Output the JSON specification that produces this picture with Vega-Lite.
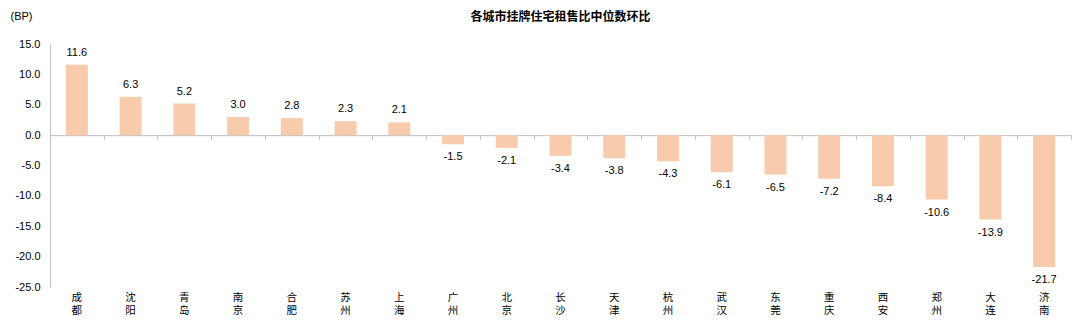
{
  "$schema": "https://vega.github.io/schema/vega-lite/v6.json",
  "width": 1021,
  "height": 243,
  "autosize": {"type": "none"},
  "padding": {"left": 50, "top": 44, "right": 9, "bottom": 38},
  "background": "white",
  "config": {
    "view": {"stroke": null},
    "font": "Liberation Sans, Noto Sans CJK SC",
    "axis": {"labelFont": "Liberation Sans, Noto Sans CJK SC", "titleFont": "Liberation Sans, Noto Sans CJK SC"},
    "locale": {"number": {"decimal": ".", "thousands": ",", "grouping": [3], "currency": ["$", ""], "minus": "-"}}
  },
  "title": {
    "text": "各城市挂牌住宅租售比中位数环比",
    "font": "Noto Sans CJK SC",
    "fontSize": 12,
    "fontWeight": "bold",
    "color": "#000000",
    "anchor": "middle",
    "offset": 0,
    "dy": 14
  },
  "data": {
    "values": [
      {"city": "成都", "value": 11.6},
      {"city": "沈阳", "value": 6.3},
      {"city": "青岛", "value": 5.2},
      {"city": "南京", "value": 3.0},
      {"city": "合肥", "value": 2.8},
      {"city": "苏州", "value": 2.3},
      {"city": "上海", "value": 2.1},
      {"city": "广州", "value": -1.5},
      {"city": "北京", "value": -2.1},
      {"city": "长沙", "value": -3.4},
      {"city": "天津", "value": -3.8},
      {"city": "杭州", "value": -4.3},
      {"city": "武汉", "value": -6.1},
      {"city": "东莞", "value": -6.5},
      {"city": "重庆", "value": -7.2},
      {"city": "西安", "value": -8.4},
      {"city": "郑州", "value": -10.6},
      {"city": "大连", "value": -13.9},
      {"city": "济南", "value": -21.7}
    ]
  },
  "encoding": {
    "y": {
      "field": "value",
      "type": "quantitative",
      "scale": {"domain": [-25, 15], "nice": false, "zero": false},
      "axis": {
        "values": [-25, -20, -15, -10, -5, 0, 5, 10, 15],
        "format": ".1f",
        "grid": false,
        "ticks": false,
        "labelPadding": 10,
        "labelFontSize": 11,
        "labelColor": "#000000",
        "domainColor": "#bfbfbf",
        "title": "(BP)",
        "titleAngle": 0,
        "titleX": -29,
        "titleY": -28,
        "titleAlign": "center",
        "titleBaseline": "middle",
        "titleFontWeight": "normal",
        "titleFontSize": 11,
        "titleColor": "#000000"
      }
    }
  },
  "layer": [
    {
      "mark": {"type": "bar", "color": "#f8cbad", "size": 22},
      "encoding": {
        "x": {
          "field": "city",
          "type": "nominal",
          "sort": null,
          "scale": {"paddingInner": 0, "paddingOuter": 0},
          "axis": {
            "orient": "bottom",
            "offset": -151.875,
            "labels": false,
            "title": null,
            "domain": true,
            "domainColor": "#bfbfbf",
            "ticks": true,
            "tickBand": "extent",
            "tickColor": "#bfbfbf",
            "tickSize": 4
          }
        }
      }
    },
    {
      "transform": [{"filter": "datum.value >= 0"}],
      "mark": {"type": "text", "baseline": "bottom", "dy": -7, "fontSize": 11, "color": "#000000"},
      "encoding": {
        "x": {
          "field": "city",
          "type": "nominal",
          "sort": null,
          "axis": {
            "orient": "bottom",
            "title": null,
            "domain": false,
            "ticks": false,
            "labelAngle": 0,
            "labelExpr": "split(datum.label, '')",
            "labelFont": "Noto Sans CJK SC",
            "labelFontSize": 10.5,
            "labelLineHeight": 13.5,
            "labelPadding": 5,
            "labelBaseline": "top",
            "labelColor": "#000000"
          }
        },
        "text": {"field": "value", "type": "quantitative", "format": ".1f"}
      }
    },
    {
      "transform": [{"filter": "datum.value < 0"}],
      "mark": {"type": "text", "baseline": "top", "dy": 7, "fontSize": 11, "color": "#000000"},
      "encoding": {
        "x": {"field": "city", "type": "nominal", "sort": null, "axis": null},
        "text": {"field": "value", "type": "quantitative", "format": ".1f"}
      }
    }
  ],
  "resolve": {"axis": {"x": "independent"}}
}
